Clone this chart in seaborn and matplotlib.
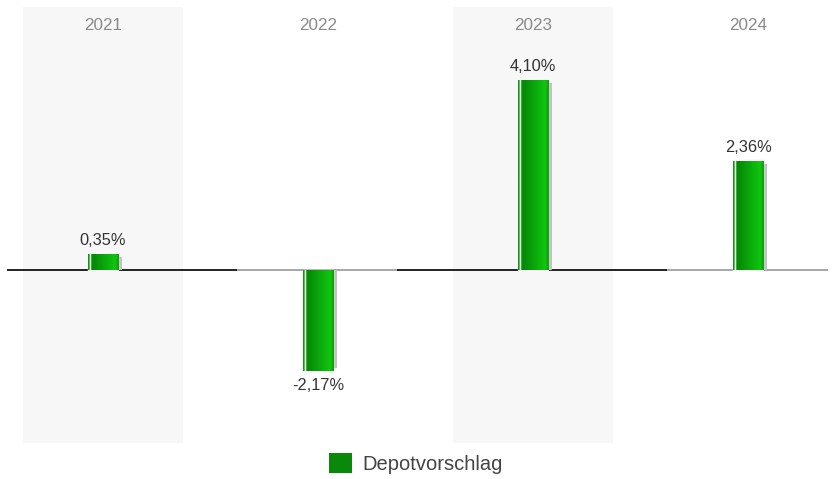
import numpy as np
import pandas as pd
import matplotlib
matplotlib.use("Agg")
import matplotlib.pyplot as plt
import seaborn as sns
from matplotlib.colors import LinearSegmentedColormap
from matplotlib.patches import Rectangle, Patch

years = ["2021", "2022", "2023", "2024"]
values = [0.35, -2.17, 4.10, 2.36]
labels = ["0,35%", "-2,17%", "4,10%", "2,36%"]
series_name = "Depotvorschlag"

sns.set_theme(style="white")
plt.rcParams["font.family"] = ["Liberation Sans", "DejaVu Sans"]

W, H = 838, 479
fig = plt.figure(figsize=(W / 100, H / 100), dpi=100)
ax_l, ax_r, ax_t, ax_b = 7, 828, 7, 443
ax = fig.add_axes([ax_l / W, 1 - ax_b / H, (ax_r - ax_l) / W, (ax_b - ax_t) / H])

df = pd.DataFrame({"year": years, "value": values})
sns.barplot(data=df, x="year", y="value", color="#0aa00a", width=0.14,
            saturation=1, ax=ax, zorder=3)

xmin, xmax = -0.4465, 3.372
ymin, ymax = -3.73, 5.67
ax.set_xlim(xmin, xmax)
ax.set_ylim(ymin, ymax)
ax.set_axis_off()

px_x = (xmax - xmin) / (ax_r - ax_l)
px_y = (ymax - ymin) / (ax_b - ax_t)

# alternating background bands
for i in range(len(years)):
    if i % 2 == 0:
        ax.axvspan(i - 0.372, i + 0.372, color="#f7f7f7", zorder=0, lw=0)
    ax.text(i, 0.9587, years[i], transform=ax.get_xaxis_transform(),
            ha="center", va="center", fontsize=12.3, color="#8a8a8a", zorder=5)

# zero line, alternating colours per category
edges = [xmin, 0.623, 1.367, 2.623, xmax]
for i in range(len(years)):
    col = "#111111" if i % 2 == 0 else "#a0a0a0"
    ax.plot([edges[i], edges[i + 1]], [0, 0], color=col, lw=1.3, zorder=1,
            solid_capstyle="butt")

# gradient fill + shadow for bars
cmap = LinearSegmentedColormap.from_list(
    "g", [(0.0, "#0c9a0c"), (0.045, "#0c9a0c"), (0.06, "#ffffff"), (0.09, "#ffffff"),
          (0.11, "#0a960a"), (0.16, "#068806"), (0.75, "#0dbb0d"), (0.88, "#12c412"),
          (1.0, "#0a9e0a")])
grad = np.linspace(0, 1, 256).reshape(1, -1)
bars = list(ax.patches)
for p, v in zip(bars, values):
    x0, w = p.get_x(), p.get_width()
    sh_top = v - np.sign(v) * 3 * px_y
    ax.add_patch(Rectangle((x0 + 4 * px_x, 0), w, sh_top, color="#c2c2c2",
                           lw=0, zorder=2))
    y0, y1 = sorted([0, v])
    im = ax.imshow(grad, cmap=cmap, aspect="auto", extent=[x0, x0 + w, y0, y1],
                   zorder=3.5, interpolation="bilinear")
    im.set_clip_path(p)

ax.set_xlim(xmin, xmax)
ax.set_ylim(ymin, ymax)

for i, (v, lab) in enumerate(zip(values, labels)):
    off = 4 if v >= 0 else -5.5
    ax.annotate(lab, (i, v), xytext=(0, off), textcoords="offset points",
                ha="center", va="bottom" if v >= 0 else "top",
                fontsize=11.8, color="#333333", zorder=6)

handle = Patch(facecolor="#0a880a", edgecolor="none", label=series_name)
fig.legend(handles=[handle], loc="center", bbox_to_anchor=(0.496, 0.033),
           frameon=False, fontsize=14.5, handlelength=1.15, handleheight=1.15,
           handletextpad=0.5, labelcolor="#444444")

fig.savefig("out.png", dpi=100)
